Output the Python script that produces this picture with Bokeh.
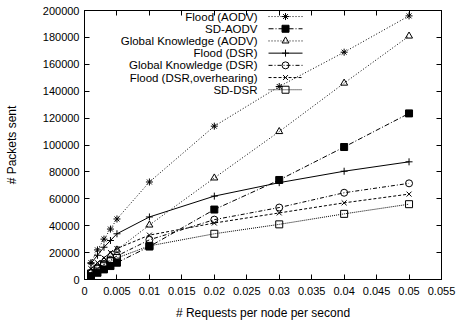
from bokeh.plotting import figure
from bokeh.models import LinearAxis, FixedTicker, Range1d, CustomJSTickFormatter
from bokeh.core.properties import value
from bokeh.embed import file_html
from bokeh.resources import INLINE

# ---- data ----
x = [0.001, 0.002, 0.003, 0.004, 0.005, 0.01, 0.02, 0.03, 0.04, 0.05]
flood_aodv = [12500, 22000, 30000, 37500, 45000, 72500, 114000, 143500, 169000, 196000]
sd_aodv = [2500, 5000, 7500, 10000, 12500, 24500, 52000, 74000, 98500, 123500]
gk_aodv = [6000, 10000, 14000, 18000, 22000, 40500, 75500, 110000, 146000, 181000]
flood_dsr = [12000, 18000, 24000, 29000, 34000, 46500, 62000, 72000, 80500, 87500]
gk_dsr = [5000, 8500, 11500, 14500, 17500, 29500, 44500, 53500, 64500, 71500]
flood_dsr_oh = [8000, 12500, 16000, 20000, 23000, 33000, 42000, 49500, 57000, 63500]
sd_dsr = [4500, 8000, 11000, 13500, 16000, 25000, 34000, 41000, 48800, 56000]

x_ticks = [0, 0.005, 0.01, 0.015, 0.02, 0.025, 0.03, 0.035, 0.04, 0.045, 0.05, 0.055]
x_tick_labels = ["0", "0.005", "0.01", "0.015", "0.02", "0.025", "0.03", "0.035",
                 "0.04", "0.045", "0.05", "0.055"]
y_ticks = [0, 20000, 40000, 60000, 80000, 100000, 120000, 140000, 160000, 180000, 200000]
y_tick_labels = [str(v) for v in y_ticks]

series = [
    ("Flood (AODV)", flood_aodv, "asterisk", "1 2", False),
    ("SD-AODV", sd_aodv, "square", "5 2 1 2", True),
    ("Global Knowledge (AODV)", gk_aodv, "triangle", "1 2", False),
    ("Flood (DSR)", flood_dsr, "cross", "solid", False),
    ("Global Knowledge (DSR)", gk_dsr, "circle", "4 2 1 2", False),
    ("Flood (DSR,overhearing)", flood_dsr_oh, "x", "3 2", False),
    ("SD-DSR", sd_dsr, "square", "1 1", False),
]

FONT = "Liberation Sans"

p = figure(width=458, height=320, output_backend="svg", toolbar_location=None,
           x_range=Range1d(0, 0.055), y_range=Range1d(0, 200000),
           frame_width=357, frame_height=269,
           min_border_left=84, min_border_right=17, min_border_top=10, min_border_bottom=41)
p.xgrid.visible = False
p.ygrid.visible = False
p.outline_line_color = "black"
p.outline_line_width = 1
p.background_fill_color = "white"
p.border_fill_color = "white"

def style_axis(ax):
    ax.major_tick_in = 5
    ax.major_tick_out = 0
    ax.minor_tick_line_color = None
    ax.axis_line_color = "black"
    ax.major_tick_line_color = "black"
    ax.major_label_text_font = FONT
    ax.major_label_text_font_size = "11px"
    ax.major_label_text_color = "black"
    ax.axis_label_text_font = FONT
    ax.axis_label_text_font_size = "12px"
    ax.axis_label_text_font_style = "normal"
    ax.axis_label_text_color = "black"
    ax.major_label_standoff = 5

p.xaxis.ticker = FixedTicker(ticks=x_ticks)
p.xaxis.major_label_overrides = {t: l for t, l in zip(x_ticks, x_tick_labels)}
p.yaxis.ticker = FixedTicker(ticks=y_ticks)
p.yaxis.major_label_overrides = {t: l for t, l in zip(y_ticks, y_tick_labels)}
p.xaxis.axis_label = "# Requests per node per second"
p.yaxis.axis_label = "# Packets sent"
style_axis(p.xaxis[0])
style_axis(p.yaxis[0])
p.yaxis.axis_label_standoff = 21
p.xaxis.axis_label_standoff = 8
p.xaxis.major_label_standoff = 7

blank = CustomJSTickFormatter(code="return '';")
top = LinearAxis(ticker=FixedTicker(ticks=x_ticks), formatter=blank)
right = LinearAxis(ticker=FixedTicker(ticks=y_ticks), formatter=blank)
style_axis(top)
style_axis(right)
top.major_label_standoff = 0
right.major_label_standoff = 0
p.add_layout(top, "above")
p.add_layout(right, "right")

# legend placement (data coordinates inside the frame)
leg_text_x = 0.02665
leg_line_x0 = 0.02835
leg_line_x1 = 0.03359
leg_mark_x = 0.03097
leg_y0 = 195500
leg_step = 9070

for i, (name, ys, marker, dash, filled) in enumerate(series):
    fill = "black" if filled else None
    size = 7
    p.line(x, ys, line_color="black", line_width=1, line_dash=dash)
    p.scatter(x, ys, marker=marker, size=size, line_color="black", line_width=1,
              fill_color=fill)
    ly = leg_y0 - i * leg_step
    p.line([leg_line_x0, leg_line_x1], [ly, ly], line_color="black", line_width=1,
           line_dash=dash)
    p.scatter([leg_mark_x], [ly], marker=marker, size=size, line_color="black",
              line_width=1, fill_color=fill)
    p.text([leg_text_x], [ly], text=[name], text_align="right", text_baseline="middle",
           text_font=value(FONT), text_font_size="11.5px", text_color="black")

open("out.html", "w").write(file_html(p, INLINE))
